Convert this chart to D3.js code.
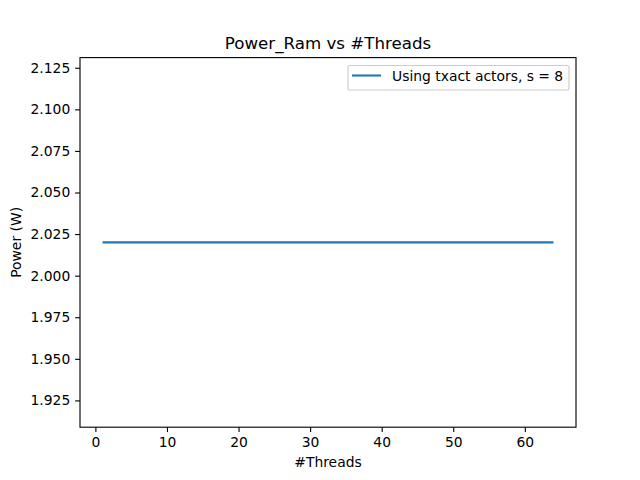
<!DOCTYPE html>
<html>
<head>
<meta charset="utf-8">
<script src="https://cdn.jsdelivr.net/npm/d3@7"></script>
<style>
  body { margin: 0; background: #fff; }
  text { font-family: "DejaVu Sans", sans-serif; fill: #000; }
</style>
</head>
<body>
<div id="chart"></div>
<script>
// values
var threads = [1, 2, 4, 8, 16, 32, 64];
var powerRam = [2.02, 2.02, 2.02, 2.02, 2.02, 2.02, 2.02];
var xTicks = [0, 10, 20, 30, 40, 50, 60];
var yTicks = [1.925, 1.950, 1.975, 2.000, 2.025, 2.050, 2.075, 2.100, 2.125];
var seriesLabel = "Using txact actors, s = 8";

var width = 640, height = 480;
var pt = 100 / 72; // matplotlib points to px at 100 dpi
var margin = {left: 80, right: 64, top: 57.6, bottom: 52.8};
var iw = width - margin.left - margin.right,
    ih = height - margin.top - margin.bottom;

var svg = d3.select("#chart").append("svg")
    .attr("width", width)
    .attr("height", height);

var g = svg.append("g")
    .attr("transform", "translate(" + margin.left + "," + margin.top + ")");

// matplotlib style limits: 5% margins, flat series expanded by 5% of value
var xmin = d3.min(threads), xmax = d3.max(threads), xpad = (xmax - xmin) * 0.05;
var ylo = d3.min(powerRam), yhi = d3.max(powerRam);
if (yhi - ylo < 1e-12) { ylo -= Math.abs(ylo) * 0.05; yhi += Math.abs(yhi) * 0.05; }
var ypad = (yhi - ylo) * 0.05;

var x = d3.scaleLinear().domain([xmin - xpad, xmax + xpad]).range([0, iw]);
var y = d3.scaleLinear().domain([ylo - ypad, yhi + ypad]).range([ih, 0]);

var xAxis = g.append("g")
    .attr("transform", "translate(0," + ih + ")")
    .call(d3.axisBottom(x).tickValues(xTicks).tickSize(3.5 * pt).tickPadding(3.5 * pt).tickFormat(d3.format("d")));
var yAxis = g.append("g")
    .call(d3.axisLeft(y).tickValues(yTicks).tickSize(3.5 * pt).tickPadding(3.5 * pt).tickFormat(d3.format(".3f")));

[xAxis, yAxis].forEach(function(a) {
  a.select(".domain").remove();
  a.selectAll("line").attr("stroke", "#000").attr("stroke-width", 0.8 * pt);
  a.selectAll("text").style("font-family", "DejaVu Sans, sans-serif").style("font-size", (10 * pt) + "px").attr("fill", "#000");
});

// frame
g.append("rect")
    .attr("width", iw).attr("height", ih)
    .attr("fill", "none").attr("stroke", "#000").attr("stroke-width", 0.8 * pt);

var line = d3.line()
    .x(function(d, i) { return x(threads[i]); })
    .y(function(d) { return y(d); });

g.append("path")
    .datum(powerRam)
    .attr("d", line)
    .attr("fill", "none")
    .attr("stroke", "#1f77b4")
    .attr("stroke-width", 1.5 * pt);

// title and labels
svg.append("text")
    .attr("x", margin.left + iw / 2).attr("y", 49)
    .attr("text-anchor", "middle").style("font-size", (12 * pt) + "px")
    .text("Power_Ram vs #Threads");
svg.append("text")
    .attr("x", margin.left + iw / 2).attr("y", 467)
    .attr("text-anchor", "middle").style("font-size", (10 * pt) + "px")
    .text("#Threads");
svg.append("text")
    .attr("transform", "translate(21," + (margin.top + ih / 2) + ") rotate(-90)")
    .attr("text-anchor", "middle").style("font-size", (10 * pt) + "px")
    .text("Power (W)");

// legend
var leg = svg.append("g").attr("transform", "translate(348,65.5)");
leg.append("rect")
    .attr("width", 221).attr("height", 24.5).attr("rx", 2)
    .attr("fill", "#fff").attr("fill-opacity", 0.8)
    .attr("stroke", "#ccc").attr("stroke-width", 0.8 * pt);
leg.append("line")
    .attr("x1", 4).attr("x2", 33).attr("y1", 10).attr("y2", 10)
    .attr("stroke", "#1f77b4").attr("stroke-width", 1.5 * pt);
leg.append("text")
    .attr("x", 44).attr("y", 15)
    .style("font-size", (10 * pt) + "px")
    .text(seriesLabel);
</script>
</body>
</html>
